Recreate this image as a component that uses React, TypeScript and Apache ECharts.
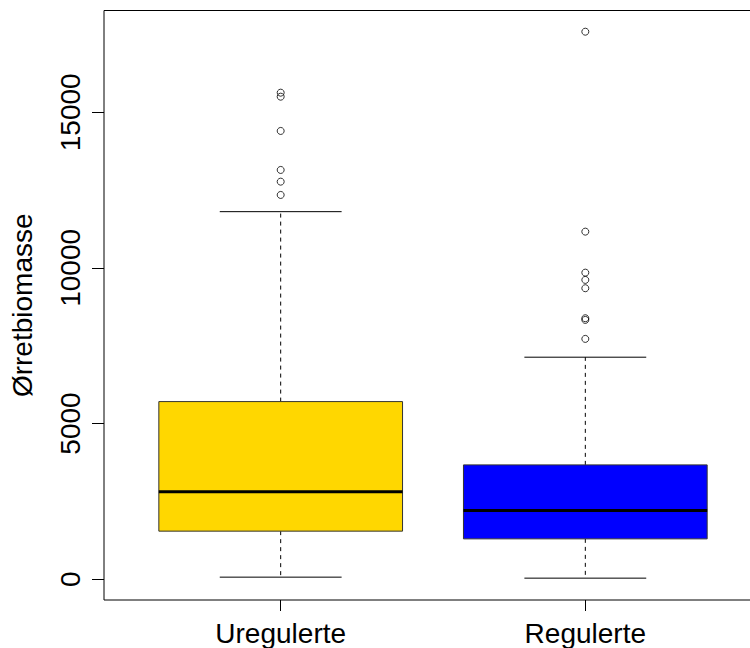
import React, { useEffect, useRef } from "react";
import * as echarts from "echarts";

const categories = ["Uregulerte", "Regulerte"];
const boxColors = ["#FFD700", "#0000FF"];
const whiskerLow = [64, 32];
const q1 = [1542, 1294];
const median = [2804, 2203];
const q3 = [5705, 3671];
const whiskerHigh = [11807, 7131];
const outliersUregulerte = [15630, 15501, 14400, 13147, 12771, 12344];
const outliersRegulerte = [17589, 11165, 9848, 9614, 9347, 8383, 8329, 7719];
const yTicks = [0, 5000, 10000, 15000];
const yTitle = "Ørretbiomasse";

const FONT = "'Liberation Sans', Arial, sans-serif";

export default function App() {
  const ref = useRef<HTMLDivElement>(null);
  useEffect(() => {
    if (!ref.current) return;
    const chart = echarts.init(ref.current, null, { renderer: "svg" });
    const boxData = categories.map((_, i) => [i + 1, whiskerLow[i], q1[i], median[i], q3[i], whiskerHigh[i]]);
    const outlierData: number[][] = [];
    outliersUregulerte.forEach((v) => outlierData.push([1, v]));
    outliersRegulerte.forEach((v) => outlierData.push([2, v]));
    const tickX = categories.map((_, i) => i + 1);

    chart.setOption({
      animation: false,
      backgroundColor: "#fff",
      grid: {
        left: 104,
        top: 10.5,
        width: 658,
        height: 589.5,
        show: true,
        borderColor: "#000",
        borderWidth: 1,
        backgroundColor: "transparent",
        outerBoundsMode: "none",
        containLabel: false,
      },
      xAxis: {
        type: "value",
        min: 0.42,
        max: 2.58,
        splitLine: { show: false },
        axisLine: { show: false, onZero: false },
        axisTick: { show: true, length: 11, customValues: tickX, lineStyle: { color: "#000", width: 1 } },
        axisLabel: {
          customValues: tickX,
          formatter: (v: number) => categories[Math.round(v) - 1] ?? "",
          fontSize: 28,
          color: "#000",
          fontFamily: FONT,
          margin: 19,
        },
      },
      yAxis: {
        type: "value",
        min: -670,
        max: 18270,
        splitLine: { show: false },
        axisLine: { show: false, onZero: false },
        axisTick: { show: true, length: 12, customValues: yTicks, lineStyle: { color: "#000", width: 1 } },
        axisLabel: {
          customValues: yTicks,
          formatter: (v: number) => String(v),
          rotate: 90,
          fontSize: 28,
          color: "#000",
          fontFamily: FONT,
          margin: 20,
        },
        name: yTitle,
        nameLocation: "middle",
        nameGap: 68,
        nameTextStyle: { fontSize: 28, color: "#000", fontFamily: FONT },
      },
      series: [
        {
          type: "custom",
          data: boxData,
          encode: { x: 0, y: [1, 2, 3, 4, 5] },
          renderItem: (params: any, api: any) => {
            const idx = params.dataIndex;
            const x = api.value(0);
            const pLow = api.coord([x, api.value(1)]);
            const pQ1 = api.coord([x, api.value(2)]);
            const pMed = api.coord([x, api.value(3)]);
            const pQ3 = api.coord([x, api.value(4)]);
            const pHigh = api.coord([x, api.value(5)]);
            const cx = pMed[0];
            const halfW = api.size([0.8, 0])[0] / 2;
            const capHalf = halfW / 2;
            const dash = { stroke: "#000", lineWidth: 1, lineDash: [4, 4] };
            const solid = { stroke: "#000", lineWidth: 1 };
            return {
              type: "group",
              children: [
                { type: "line", shape: { x1: cx, y1: pQ3[1], x2: cx, y2: pHigh[1] }, style: dash },
                { type: "line", shape: { x1: cx, y1: pQ1[1], x2: cx, y2: pLow[1] }, style: dash },
                { type: "line", shape: { x1: cx - capHalf, y1: pHigh[1], x2: cx + capHalf, y2: pHigh[1] }, style: solid },
                { type: "line", shape: { x1: cx - capHalf, y1: pLow[1], x2: cx + capHalf, y2: pLow[1] }, style: solid },
                {
                  type: "rect",
                  shape: { x: cx - halfW, y: pQ3[1], width: halfW * 2, height: pQ1[1] - pQ3[1] },
                  style: { fill: boxColors[idx], stroke: "#333", lineWidth: 1 },
                },
                { type: "line", shape: { x1: cx - halfW, y1: pMed[1], x2: cx + halfW, y2: pMed[1] }, style: { stroke: "#000", lineWidth: 3 } },
              ],
            };
          },
          z: 2,
        },
        {
          type: "scatter",
          data: outlierData,
          symbol: "circle",
          symbolSize: 7,
          itemStyle: { color: "rgba(0,0,0,0)", borderColor: "#000", borderWidth: 1 },
          z: 3,
        },
      ],
    });
    return () => chart.dispose();
  }, []);
  return <div ref={ref} style={{ position: "fixed", left: 0, top: 0, width: 750, height: 648 }} />;
}
